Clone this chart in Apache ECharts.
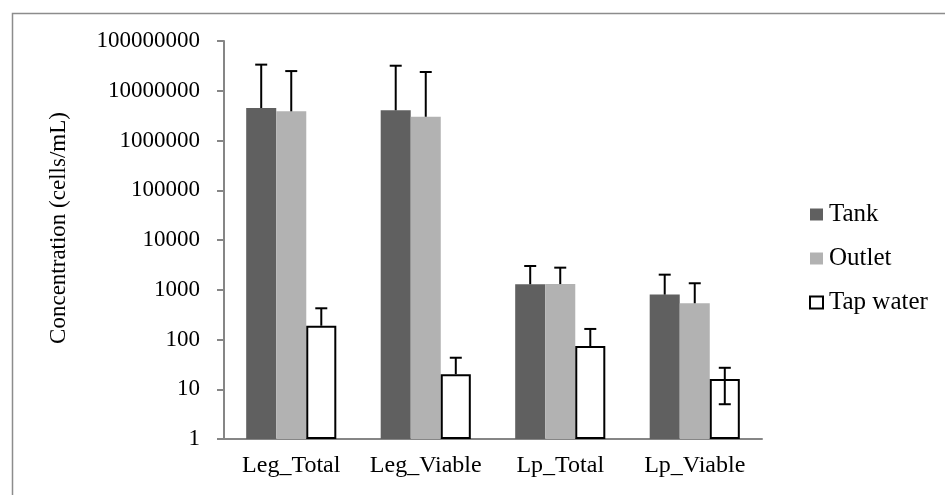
<!DOCTYPE html>
<html>
<head>
<meta charset="utf-8">
<script src="https://cdn.jsdelivr.net/npm/echarts@6/dist/echarts.min.js"></script>
<style>
  html, body { margin: 0; padding: 0; background: #fff; }
  #chart { width: 945px; height: 495px; }
</style>
</head>
<body>
<div id="chart"></div>
<script>
const categories = ['Leg_Total', 'Leg_Viable', 'Lp_Total', 'Lp_Viable']
const tankValues = [4500000, 4050000, 1290, 800]
const tankErrors = [29000000, 27800000, 1710, 1210]
const outletValues = [3860000, 3000000, 1300, 535]
const outletErrors = [21000000, 20800000, 1480, 815]
const tapValues = [189, 20, 74, 16]
const tapErrors = [235, 23, 89, 11]
const yTicks = [1, 10, 100, 1000, 10000, 100000, 1000000, 10000000, 100000000]

const font = 'Liberation Serif'
const chart = echarts.init(document.getElementById('chart'))

// error bars: drawn over each bar, lower arm only where it stays positive
function errorSeries(name, values, errors, slot) {
  const data = values.map((v, i) => [i, v, v + errors[i], v - errors[i]])
  return {
    name: name + '_err',
    type: 'custom',
    z: 10,
    silent: true,
    data: data,
    encode: { x: 0, y: 1 },
    renderItem(params, api) {
      const band = api.size([1, 0])[0]
      const bw = band * 0.67 / 3
      const c = api.coord([api.value(0), api.value(1)])
      const x = c[0] + (slot - 1) * bw
      const top = api.coord([api.value(0), api.value(2)])[1]
      const lowVal = api.value(3)
      const bottom = lowVal > 0 ? api.coord([api.value(0), lowVal])[1] : c[1]
      const cap = 6
      const style = { stroke: '#000', lineWidth: 2 }
      const children = [
        { type: 'line', shape: { x1: x, y1: top, x2: x, y2: bottom }, style },
        { type: 'line', shape: { x1: x - cap, y1: top, x2: x + cap, y2: top }, style }
      ]
      if (lowVal > 0) {
        children.push({ type: 'line', shape: { x1: x - cap, y1: bottom, x2: x + cap, y2: bottom }, style })
      }
      return { type: 'group', children }
    }
  }
}

chart.setOption({
  animation: false,
  textStyle: { fontFamily: font },
  graphic: [{
    type: 'rect',
    left: 10, top: 11,
    shape: { width: 960, height: 520 },
    style: { fill: 'none', stroke: '#8c8c8c', lineWidth: 1.5 },
    silent: true
  }],
  grid: { left: 224, right: 183, top: 41, bottom: 56 },
  legend: {
    orient: 'vertical',
    left: 804,
    top: 197,
    icon: 'rect',
    itemWidth: 13,
    itemHeight: 12,
    itemGap: 19,
    textStyle: { fontFamily: font, fontSize: 25, color: '#000', padding: [0, 0, 0, 1] },
    data: ['Tank', 'Outlet', 'Tap water']
  },
  xAxis: {
    type: 'category',
    data: categories,
    axisLine: { lineStyle: { color: '#868686', width: 2 } },
    axisTick: { show: false },
    axisLabel: { fontFamily: font, fontSize: 24, color: '#000', margin: 15, interval: 0, hideOverlap: false }
  },
  yAxis: {
    type: 'log',
    logBase: 10,
    min: yTicks[0],
    max: yTicks[yTicks.length - 1],
    name: 'Concentration (cells/mL)',
    nameLocation: 'middle',
    nameGap: 154,
    nameTextStyle: { fontFamily: font, fontSize: 23, color: '#000', padding: [0, 0, 0, 24] },
    axisLine: { show: true, lineStyle: { color: '#868686', width: 2 } },
    axisTick: { show: true, length: 7, lineStyle: { color: '#868686', width: 2 } },
    splitLine: { show: false },
    axisLabel: {
      fontFamily: font, fontSize: 23, color: '#000', margin: 24,
      formatter: v => String(Math.round(v))
    }
  },
  series: [
    { name: 'Tank', type: 'bar', data: tankValues, barGap: '0%', barCategoryGap: '33%',
      itemStyle: { color: '#606060' } },
    { name: 'Outlet', type: 'bar', data: outletValues,
      itemStyle: { color: '#b2b2b2' } },
    { name: 'Tap water', type: 'bar', data: tapValues,
      itemStyle: { color: '#ffffff', borderColor: '#000', borderWidth: 2 } },
    errorSeries('Tank', tankValues, tankErrors, 0),
    errorSeries('Outlet', outletValues, outletErrors, 1),
    errorSeries('Tap water', tapValues, tapErrors, 2)
  ]
})
</script>
</body>
</html>
